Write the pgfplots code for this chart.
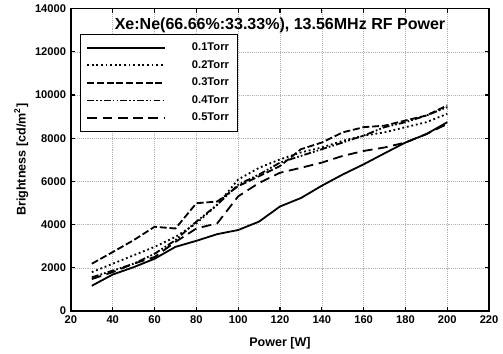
\documentclass[border=0pt]{standalone}
\usepackage{pgfplots}
\pgfplotsset{compat=1.18}
\usepackage{fontspec}
\setmainfont{Liberation Sans}
\begin{document}
\begin{tikzpicture}
\begin{axis}[
  scale only axis,
  width=300pt, height=217pt,
  xmin=20, xmax=220, ymin=0, ymax=14000,
  xtick={20,40,...,220}, ytick={0,2000,...,14000},
  /pgf/number format/assume math mode=true,
  /pgf/number format/1000 sep={},
  scaled y ticks=false,
  tick label style={font=\bfseries\footnotesize},
  xlabel={\bfseries Power [W]},
  ylabel={\bfseries Brightness [cd/m$^{\mathbf{2}}$]},
  label style={font=\bfseries\small},
  xlabel style={yshift=-3pt},
  ylabel style={yshift=-2pt},
  grid=major,
  grid style={densely dotted, gray!60, line width=0.4pt},
  axis line style={line width=1pt},
  tick style={black, line width=0.8pt},
  tick align=inside,
  major tick length=3pt,
  legend style={at={(0.022,0.916)}, anchor=north west, draw=black, line width=0.8pt,
    font=\bfseries\footnotesize, row sep=1.5pt, inner sep=4pt},
  legend cell align=left,
  legend image post style={line width=1.3pt},
  legend image code/.code={\draw[#1] (0cm,0cm) -- (1.95cm,0cm); \path (2.55cm,0cm);},
  every axis plot/.append style={black, line width=1.3pt, no marks},
]
\node[font=\bfseries\fontsize{11.5}{13}\selectfont, anchor=center] at (axis description cs:0.5,0.945) {Xe:Ne(66.66\%:33.33\%), 13.56MHz RF Power};
\addplot[solid] coordinates {(30,1170)(40,1690)(50,2030)(60,2420)(70,2970)(80,3250)(90,3560)(100,3750)(110,4140)(120,4840)(130,5230)(140,5800)(150,6320)(160,6790)(170,7300)(180,7800)(190,8190)(200,8740)};
\addlegendentry{0.1Torr}
\addplot[dotted] coordinates {(30,1800)(40,2190)(50,2580)(60,2970)(70,3430)(80,4060)(90,4920)(100,6090)(110,6630)(120,7020)(130,7340)(140,7570)(150,7880)(160,8120)(170,8270)(180,8510)(190,8740)(200,9130)};
\addlegendentry{0.2Torr}
\addplot[dash pattern=on 5pt off 2pt] coordinates {(30,2190)(40,2730)(50,3280)(60,3900)(70,3820)(80,4990)(90,5070)(100,5780)(110,6240)(120,6710)(130,7490)(140,7800)(150,8270)(160,8510)(170,8580)(180,8820)(190,9050)(200,9520)};
\addlegendentry{0.3Torr}
\addplot[dash pattern=on 5pt off 1.5pt on 1.2pt off 1.5pt on 1.2pt off 1.5pt] coordinates {(30,1560)(40,1870)(50,2190)(60,2650)(70,3280)(80,4140)(90,4920)(100,5850)(110,6320)(120,6870)(130,7180)(140,7490)(150,7800)(160,8120)(170,8510)(180,8740)(190,9050)(200,9440)};
\addlegendentry{0.4Torr}
\addplot[dash pattern=on 7pt off 4pt] coordinates {(30,1480)(40,1800)(50,2190)(60,2500)(70,3200)(80,3820)(90,4060)(100,5310)(110,5930)(120,6400)(130,6630)(140,6870)(150,7180)(160,7410)(170,7570)(180,7800)(190,8190)(200,8660)};
\addlegendentry{0.5Torr}
\end{axis}
\path (current axis.outer west) ++(-7pt,0pt);
\end{tikzpicture}
\end{document}
